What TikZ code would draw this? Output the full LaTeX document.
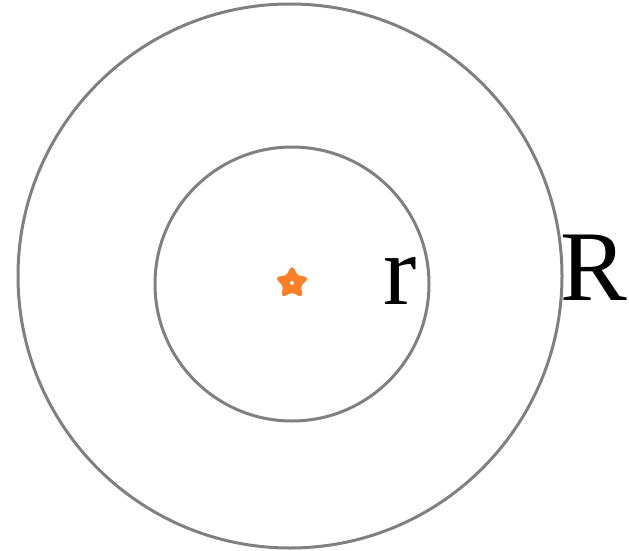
\documentclass[tikz,border=0pt]{standalone}
\usepackage{fontspec}
\setmainfont{Liberation Serif}
\usetikzlibrary{shapes.geometric}
\definecolor{ringgray}{RGB}{128,128,128}
\definecolor{starorange}{RGB}{255,127,39}
\tikzset{
  ring/.style={circle,draw=ringgray,line width=3pt,inner sep=0pt},
  src/.style={star,star points=5,star point ratio=1.9,fill=starorange,draw=starorange,line width=3pt,rounded corners=2pt,minimum size=30pt,inner sep=0pt},
  rlab/.style={font=\fontsize{100}{100}\selectfont,inner sep=0pt}
}
\begin{document}
\begin{tikzpicture}[x=1pt,y=-1pt]
  \useasboundingbox (0,0) rectangle (629,551);
  \node[ring,minimum size=544pt] (outer) at (290,276) {};
  \node[ring,minimum size=274pt] (inner) at (292,284) {};
  \node[src] (pt) at (292,283) {};
  \fill[white] (pt.center) circle (2pt);
  \node[rlab] (lr) at (400,281) {r};
  \node[rlab] (lR) at (594,268) {R};
\end{tikzpicture}
\end{document}
